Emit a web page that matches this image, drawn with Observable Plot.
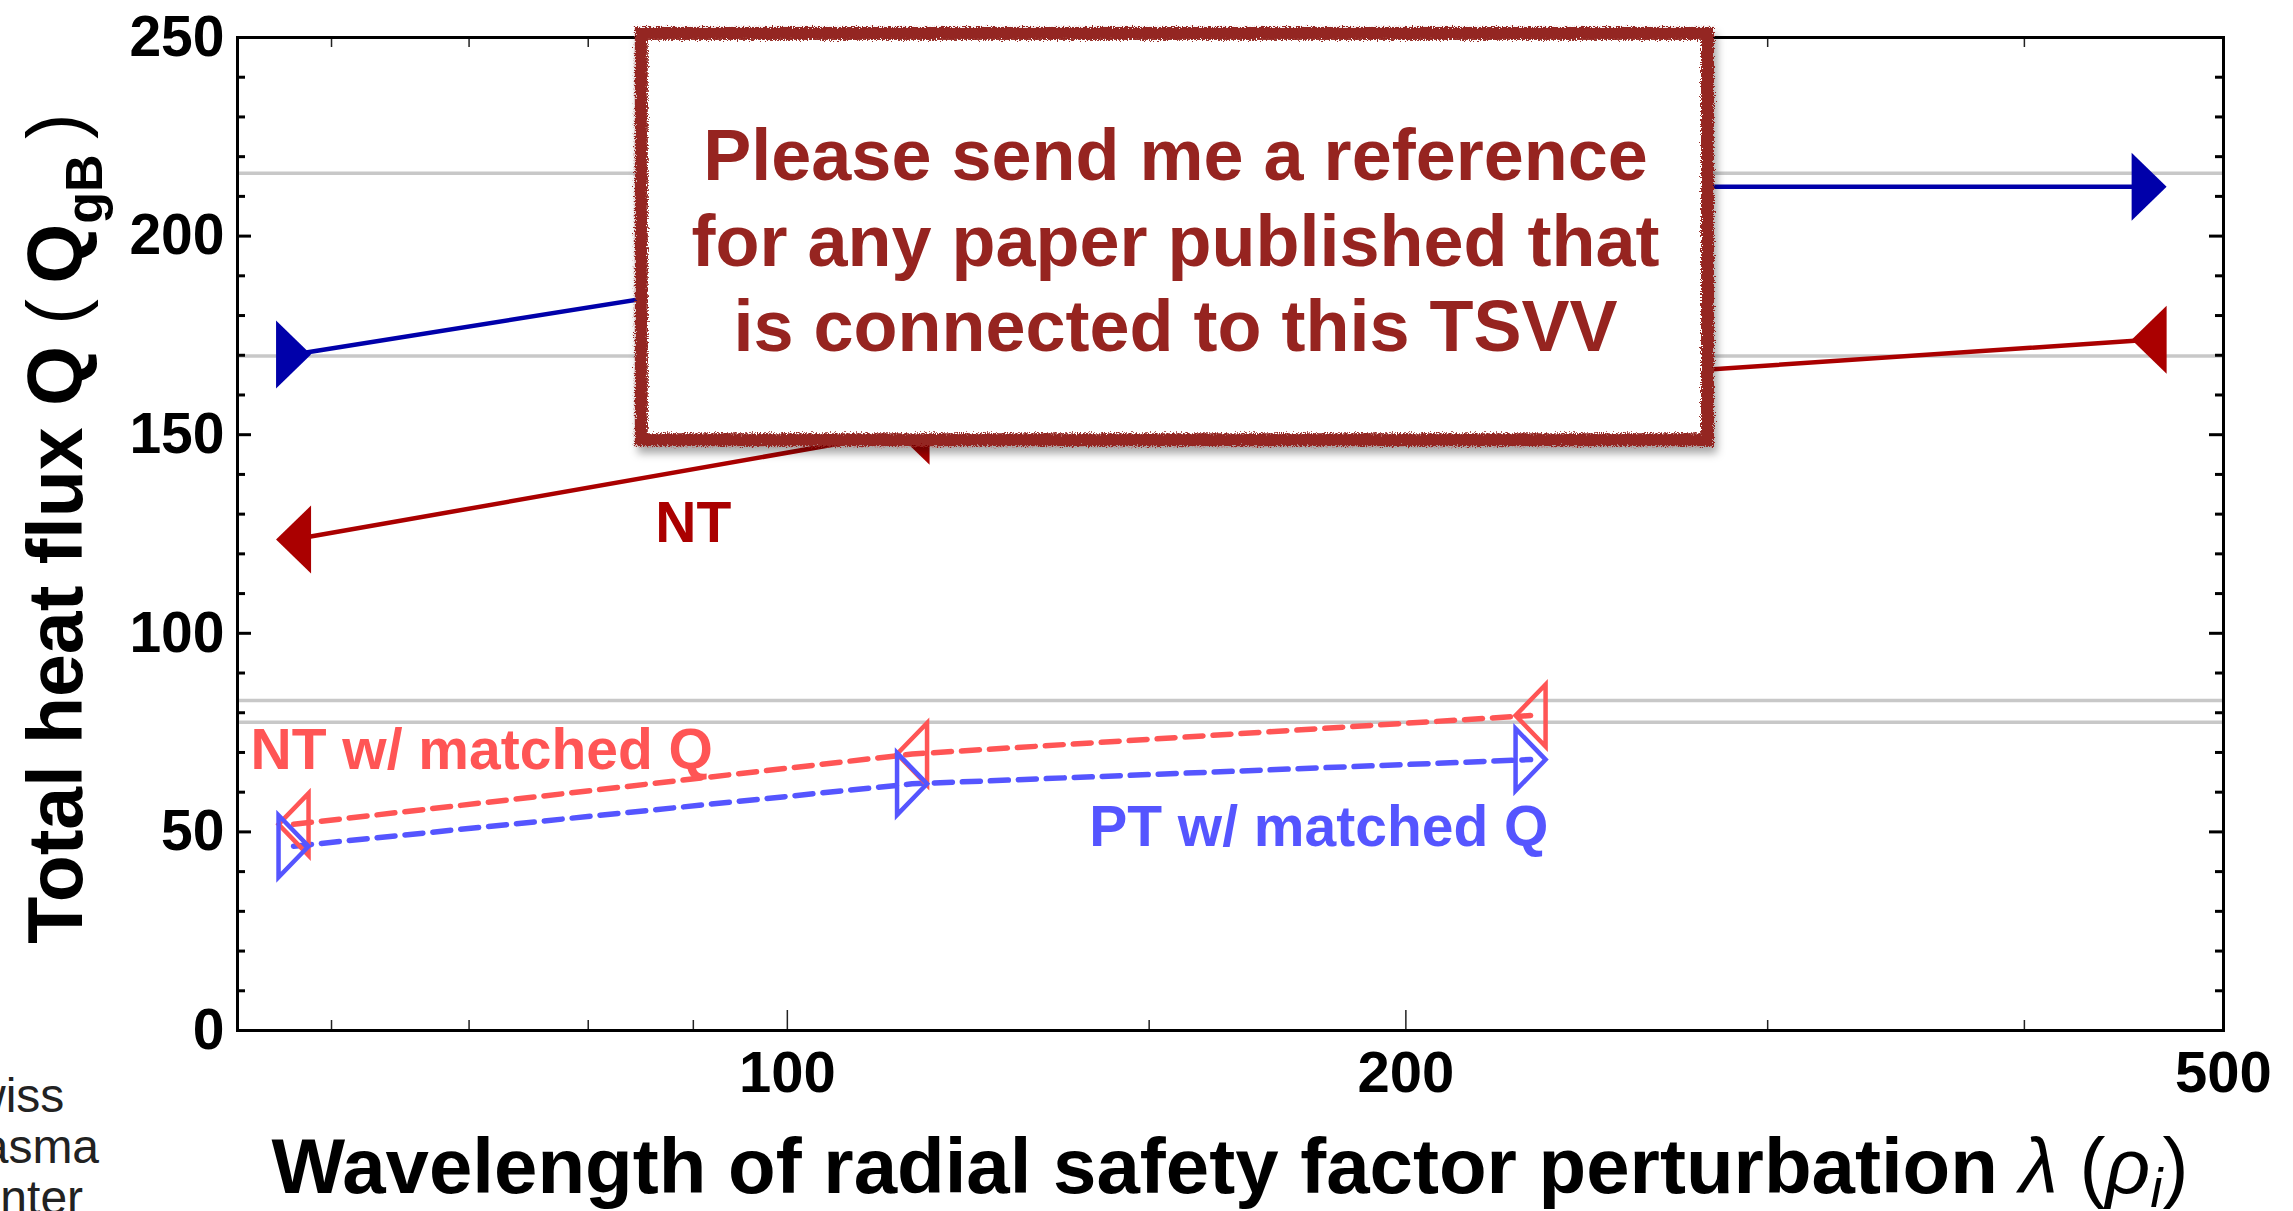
<!DOCTYPE html>
<html><head><meta charset="utf-8">
<script src="https://cdn.jsdelivr.net/npm/d3@7"></script>
<script src="https://cdn.jsdelivr.net/npm/@observablehq/plot@0.6"></script>
<style>
html,body{margin:0;padding:0;background:#fff;overflow:hidden}
#chart{position:relative;width:2293px;height:1211px}
</style></head><body><div id="chart"></div>
<script>
// ---- data ----
const lambda = [57.5, 115, 230, 460];
const ptQ = [170.2, 195, 212.4, 212.4];
const ntQ = [123.6, 151, 163.4, 173.9];
const lambdaMatched = [57.5, 115, 230];
const ptMatchedQ = [46.4, 62.1, 68.2];
const ntMatchedQ = [51.9, 69.6, 79.3];
const referenceQ = [215.8, 169.8, 83.1, 77.6];
const xTickLabels = [100, 200, 500];
const xMinorTicks = [60, 70, 80, 90, 150, 300, 400];
const yTickLabels = [0, 50, 100, 150, 200, 250];
const yMinorTicks = [10, 20, 30, 40, 60, 70, 80, 90, 110, 120, 130, 140, 160, 170, 180, 190, 210, 220, 230, 240];
const labelText = ["NT", "NT w/ matched Q", "PT w/ matched Q"];
const labelX = [90, 71, 181.4];
const labelY = [127.7, 70.4, 51.1];
const labelColor = ["#aa0000", "#ff5555", "#5555ff"];
const calloutText = "Please send me a reference\nfor any paper published that\nis connected to this TSVV";
const calloutBox = [{x1: 84.95, x2: 280.6, y1: 148.6, y2: 250.9}];
const calloutCenter = [{x: 154.5, y: 199.5}];
const logoLines = ["Swiss", "Plasma", "Center"];

// ---- tables ----
const pt = lambda.map((x, i) => ({x, y: ptQ[i]}));
const nt = lambda.map((x, i) => ({x, y: ntQ[i]}));
const ptm = lambdaMatched.map((x, i) => ({x, y: ptMatchedQ[i]}));
const ntm = lambdaMatched.map((x, i) => ({x, y: ntMatchedQ[i]}));
const labels = labelText.map((t, i) => ({text: t, x: labelX[i], y: labelY[i], color: labelColor[i]}));

// ---- custom triangle symbols ----
function tri(dir, w, h) {
  return {draw(ctx) {
    ctx.moveTo(-dir * w / 2, -h / 2);
    ctx.lineTo(dir * w / 2, 0);
    ctx.lineTo(-dir * w / 2, h / 2);
    ctx.closePath();
  }};
}
const triRightFilled = tri(1, 35, 68), triLeftFilled = tri(-1, 35, 68);
const triRightOpen = tri(1, 30, 62), triLeftOpen = tri(-1, 30, 62);

const W = 2293, H = 1211, ML = 237, MR = 70, MT = 37, MB = 181;
const fw = W - ML - MR, fh = H - MT - MB;
const FONT = "'Liberation Sans', Arial, Helvetica, sans-serif";

const chart = Plot.plot({
  width: W, height: H, marginLeft: ML, marginRight: MR, marginTop: MT, marginBottom: MB,
  style: {fontFamily: FONT, background: "white", overflow: "visible"},
  x: {type: "log", domain: [54, 500]},
  y: {domain: [0, 250]},
  color: {type: "identity"},
  marks: [
    Plot.ruleY(referenceQ, {stroke: "#c8c8c8", strokeWidth: 3.5}),
    Plot.line(pt, {x: "x", y: "y", stroke: "#0000aa", strokeWidth: 4.5}),
    Plot.line(nt, {x: "x", y: "y", stroke: "#aa0000", strokeWidth: 4.5}),
    Plot.line(ntm, {x: "x", y: "y", stroke: "#ff5555", strokeWidth: 5.5, strokeDasharray: "18,10"}),
    Plot.line(ptm, {x: "x", y: "y", stroke: "#5555ff", strokeWidth: 5.5, strokeDasharray: "18,10"}),
    Plot.dot(pt, {x: "x", y: "y", symbol: triRightFilled, fill: "#0000aa", stroke: "none"}),
    Plot.dot(nt, {x: "x", y: "y", symbol: triLeftFilled, fill: "#aa0000", stroke: "none"}),
    Plot.dot(ntm, {x: "x", y: "y", symbol: triLeftOpen, fill: "none", stroke: "#ff5555", strokeWidth: 4.5}),
    Plot.dot(ptm, {x: "x", y: "y", symbol: triRightOpen, fill: "none", stroke: "#5555ff", strokeWidth: 4.5}),
    Plot.text(labels, {x: "x", y: "y", text: "text", fill: "color", fontSize: 57, fontWeight: "bold", lineAnchor: "middle"}),
    // ticks
    Plot.ruleX(xTickLabels, {insetTop: fh - 20, stroke: "#222", strokeWidth: 1.5}),
    Plot.ruleX(xMinorTicks, {insetTop: fh - 10, stroke: "#222", strokeWidth: 1.5}),
    Plot.ruleX(xTickLabels, {insetBottom: fh - 20, stroke: "#222", strokeWidth: 1.5}),
    Plot.ruleX(xMinorTicks, {insetBottom: fh - 10, stroke: "#222", strokeWidth: 1.5}),
    Plot.ruleY(yTickLabels, {insetRight: fw - 14, stroke: "black", strokeWidth: 3}),
    Plot.ruleY(yMinorTicks, {insetRight: fw - 8, stroke: "black", strokeWidth: 3}),
    Plot.ruleY(yTickLabels, {insetLeft: fw - 14, stroke: "black", strokeWidth: 3}),
    Plot.ruleY(yMinorTicks, {insetLeft: fw - 8, stroke: "black", strokeWidth: 3}),
    Plot.frame({stroke: "black", strokeWidth: 3}),
    Plot.axisX({ticks: xTickLabels, tickSize: 0, tickPadding: 20, fontSize: 58, fontWeight: "bold", label: null, tickFormat: d => String(d)}),
    Plot.axisY({ticks: yTickLabels, tickSize: 0, tickPadding: 13, fontSize: 57, fontWeight: "bold", label: null, tickFormat: d => String(d)}),
    // callout
    Plot.rect(calloutBox, {x1: "x1", x2: "x2", y1: "y1", y2: "y2", fill: "white", stroke: "#942822", strokeWidth: 13}),
    Plot.text(calloutCenter, {x: "x", y: "y", text: () => calloutText, fontSize: 72, fontWeight: "bold", fill: "#962420", lineHeight: 1.19, lineAnchor: "middle"})
  ]
});
document.getElementById("chart").appendChild(chart);

// ---- decorations: rough border + shadow, titles, logo text ----
const svg = d3.select(chart);
const defs = svg.insert("defs", ":first-child");
const f = defs.append("filter").attr("id", "rough").attr("x", "-5%").attr("y", "-10%").attr("width", "110%").attr("height", "125%");
f.append("feTurbulence").attr("type", "fractalNoise").attr("baseFrequency", "0.8").attr("numOctaves", 3).attr("seed", 3).attr("result", "noise");
f.append("feDisplacementMap").attr("in", "SourceGraphic").attr("in2", "noise").attr("scale", 7).attr("xChannelSelector", "R").attr("yChannelSelector", "G").attr("result", "rough");
f.append("feGaussianBlur").attr("in", "SourceAlpha").attr("stdDeviation", 4).attr("result", "blur");
f.append("feOffset").attr("in", "blur").attr("dx", 3).attr("dy", 7).attr("result", "ob");
f.append("feFlood").attr("flood-color", "#000").attr("flood-opacity", 0.35).attr("result", "fl");
f.append("feComposite").attr("in", "fl").attr("in2", "ob").attr("operator", "in").attr("result", "shadow");
const m = f.append("feMerge");
m.append("feMergeNode").attr("in", "shadow");
m.append("feMergeNode").attr("in", "rough");
svg.selectAll('g[aria-label="rect"]').attr("filter", "url(#rough)");

// x title
const xt = svg.append("text").attr("x", ML + fw / 2).attr("y", 1193).attr("text-anchor", "middle")
  .attr("font-family", FONT).attr("font-size", 78).attr("fill", "black");
xt.append("tspan").attr("font-weight", "bold").text("Wavelength of radial safety factor perturbation ");
xt.append("tspan").attr("font-style", "italic").text("λ");
xt.append("tspan").text(" (");
xt.append("tspan").attr("font-style", "italic").text("ρ");
xt.append("tspan").attr("font-style", "italic").attr("font-size", 55).attr("dy", 14).text("i");
xt.append("tspan").attr("dy", -14).text(")");

// y title
const yt = svg.append("text").attr("transform", `translate(82,${MT + fh / 2 - 5}) rotate(-90)`).attr("text-anchor", "middle")
  .attr("font-family", FONT).attr("font-size", 77).attr("fill", "black");
yt.append("tspan").attr("font-weight", "bold").text("Total heat flux Q ");
yt.append("tspan").text("(\u2009");
yt.append("tspan").attr("font-weight", "bold").text("Q");
yt.append("tspan").attr("font-weight", "bold").attr("font-size", 52).attr("dy", 20).text("gB");
yt.append("tspan").attr("dy", -20).text("\u2009)");

// partial logo text at bottom-left (cut by the page edge, as in the reference)
logoLines.forEach((t, i) => {
  svg.append("text").attr("x", -61).attr("y", 1112 + 51 * i).attr("text-anchor", "start")
    .attr("font-family", FONT).attr("font-size", 48).attr("fill", "#222").text(t);
});
</script>
</body></html>
